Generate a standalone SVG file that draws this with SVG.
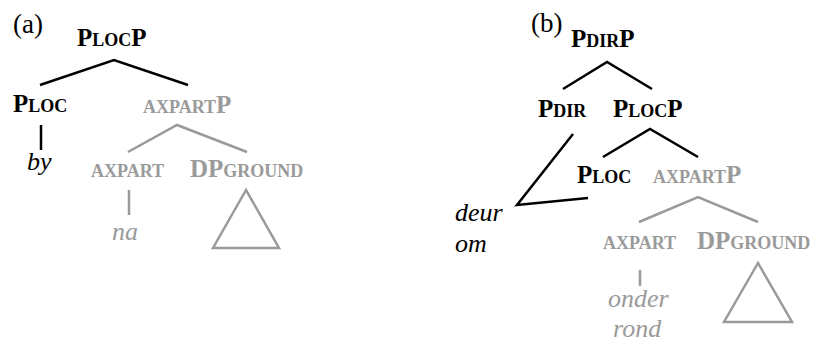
<svg xmlns="http://www.w3.org/2000/svg" width="818" height="344" viewBox="0 0 818 344" font-family="'Liberation Serif', 'DejaVu Serif', serif">
<style>
.lab{font-family:'Liberation Serif','DejaVu Serif',serif;font-size:25px;font-weight:bold;fill:#000}
.g{fill:#9a9a9a}
.sc{font-size:18px}
.it{font-size:26px;font-style:italic;font-weight:normal}
.tag{font-family:'Liberation Serif','DejaVu Serif',serif;font-size:27px;fill:#000}
.k{stroke:#000;stroke-width:2.5;fill:none}
.gl{stroke:#9a9a9a;stroke-width:2.5;fill:none}
</style>
<rect width="818" height="344" fill="#fff"/>
<g id="connectors">
<polyline class="k" points="40,85 114,60 188,85"/>
<line class="k" x1="41" y1="125" x2="41" y2="150"/>
<polyline class="gl" points="128,152 177,125 247,152"/>
<line class="gl" x1="129" y1="190" x2="129" y2="215"/>
<polygon class="gl" points="246,190 213,248 279,248"/>
<polyline class="k" points="563,89 607,62 652,89"/>
<polyline class="k" points="603,157 650,129 698,157"/>
<polyline class="k" points="573,134 517,205 588,198"/>
<polyline class="gl" points="639,222 698,197 758,222"/>
<line class="gl" x1="640" y1="270" x2="640" y2="286"/>
<polygon class="gl" points="758,263 724,322 792,322"/>
</g>
<g id="label-a"><text class="tag" x="13" y="33">(a)</text></g>
<g id="a-PLocP"><text class="lab" x="77" y="46">P<tspan class="sc">LOC</tspan>P</text></g>
<g id="a-PLoc"><text class="lab" x="13" y="112">P<tspan class="sc">LOC</tspan></text></g>
<g id="a-by"><text class="lab it" x="27" y="170">by</text></g>
<g id="a-AxPartP"><text class="lab g" x="143" y="113"><tspan class="sc">AXPART</tspan>P</text></g>
<g id="a-AxPart"><text class="lab g sc" x="91" y="177">AXPART</text></g>
<g id="a-DPGround"><text class="lab g" x="190" y="177">DP<tspan class="sc">GROUND</tspan></text></g>
<g id="a-na"><text class="lab g it" x="112" y="240">na</text></g>
<g id="label-b"><text class="tag" x="531" y="32">(b)</text></g>
<g id="b-PDirP"><text class="lab" x="571" y="47">P<tspan class="sc">DIR</tspan>P</text></g>
<g id="b-PDir"><text class="lab" x="538" y="117">P<tspan class="sc">DIR</tspan></text></g>
<g id="b-PLocP"><text class="lab" x="613" y="117">P<tspan class="sc">LOC</tspan>P</text></g>
<g id="b-PLoc"><text class="lab" x="577" y="183">P<tspan class="sc">LOC</tspan></text></g>
<g id="b-AxPartP"><text class="lab g" x="653" y="183"><tspan class="sc">AXPART</tspan>P</text></g>
<g id="b-deurom"><text class="lab it" x="455" y="221">deur</text><text class="lab it" x="455" y="252">om</text></g>
<g id="b-AxPart"><text class="lab g sc" x="603" y="249">AXPART</text></g>
<g id="b-DPGround"><text class="lab g" x="697" y="249">DP<tspan class="sc">GROUND</tspan></text></g>
<g id="b-onderrond"><text class="lab g it" x="608" y="307">onder</text><text class="lab g it" x="613" y="337">rond</text></g>
</svg>
